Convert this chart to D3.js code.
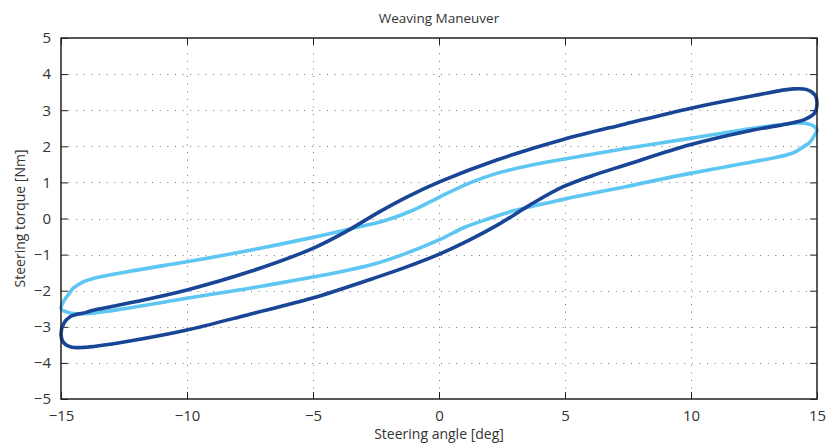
<!DOCTYPE html>
<html>
<head>
<meta charset="utf-8">
<script src="https://cdn.jsdelivr.net/npm/d3@7"></script>
<style>
  body { margin: 0; background: #fff; }
  text { font-family: "Open Sans", "Noto Sans", sans-serif; fill: #333; }
</style>
</head>
<body>
<svg width="833" height="445"></svg>
<script>
// values: [steering angle deg, torque Nm]
var darkLoop = [
  [-15.0, -3.2], [-14.9, -2.92], [-14.64, -2.72], [-14.0, -2.6], [-13.72, -2.54],
  [-12.0, -2.3], [-10.0, -1.98], [-7.5, -1.47], [-5.05, -0.84], [-3.66, -0.35],
  [-2.4, 0.17], [-1.2, 0.62], [0.04, 1.02], [2.29, 1.62], [4.93, 2.19],
  [7.4, 2.62], [9.96, 3.05], [12.47, 3.4], [14.06, 3.59], [14.6, 3.57],
  [14.92, 3.42], [15.0, 3.2], [14.9, 2.92], [14.5, 2.74], [13.8, 2.62],
  [12.47, 2.45], [9.96, 2.04], [7.4, 1.48], [6.26, 1.23], [4.93, 0.88],
  [3.6, 0.37], [2.4, -0.15], [1.2, -0.6], [0.04, -0.98], [-1.28, -1.34],
  [-2.61, -1.66], [-5.05, -2.21], [-7.5, -2.65], [-10.0, -3.09], [-12.5, -3.42],
  [-14.1, -3.57], [-14.6, -3.56], [-14.9, -3.44]
];
var lightLoop = [
  [-15.0, -2.5], [-14.9, -2.3], [-14.7, -2.1], [-14.51, -1.93], [-14.1, -1.75],
  [-13.72, -1.66], [-12.0, -1.43], [-10.0, -1.2], [-7.5, -0.88], [-5.05, -0.53],
  [-3.66, -0.31], [-2.07, -0.04], [-1.01, 0.235], [0.04, 0.6], [1.2, 0.98],
  [2.29, 1.25], [3.6, 1.47], [4.93, 1.64], [7.4, 1.94], [9.96, 2.22],
  [12.47, 2.5], [14.06, 2.64], [14.5, 2.64], [14.85, 2.57], [15.0, 2.45],
  [14.9, 2.3], [14.7, 2.1], [14.46, 1.99], [14.1, 1.83], [13.8, 1.76],
  [12.47, 1.57], [9.96, 1.25], [7.4, 0.88], [4.93, 0.53], [3.0, 0.22],
  [2.0, 0.0], [1.0, -0.25], [0.04, -0.58], [-1.28, -0.96], [-2.61, -1.27],
  [-3.8, -1.46], [-5.05, -1.63], [-7.5, -1.93], [-10.0, -2.21], [-12.5, -2.5],
  [-14.06, -2.64], [-14.5, -2.63], [-14.85, -2.57]
];
var xTicks = [-15, -10, -5, 0, 5, 10, 15];
var yTicks = [-5, -4, -3, -2, -1, 0, 1, 2, 3, 4, 5];

var plotLeft = 61, plotRight = 817, plotTop = 38, plotBottom = 399;
var svg = d3.select('svg');

var x = d3.scaleLinear().domain([-15, 15]).range([plotLeft, plotRight]);
var y = d3.scaleLinear().domain([-5, 5]).range([plotBottom, plotTop]);

function fmt(d) { return d < 0 ? '\u2212' + (-d) : '' + d; }

// grid
var grid = svg.append('g')
  .attr('stroke', '#777')
  .attr('stroke-width', 1)
  .attr('stroke-dasharray', '1,6.6');
grid.selectAll('line.vx')
  .data(xTicks.slice(1, -1))
  .enter()
  .append('line')
  .attr('x1', function(d) { return Math.round(x(d)) + 0.5; })
  .attr('x2', function(d) { return Math.round(x(d)) + 0.5; })
  .attr('y1', plotTop)
  .attr('y2', plotBottom);
grid.selectAll('line.hy')
  .data(yTicks.slice(1, -1))
  .enter()
  .append('line')
  .attr('y1', function(d) { return Math.round(y(d)) + 0.5; })
  .attr('y2', function(d) { return Math.round(y(d)) + 0.5; })
  .attr('x1', plotLeft)
  .attr('x2', plotRight);

// axes, ticks inward on all four sides
svg.append('g')
  .attr('transform', 'translate(0,' + plotBottom + ')')
  .call(d3.axisBottom(x).tickValues(xTicks).tickSize(-7).tickPadding(11).tickFormat(fmt));
svg.append('g')
  .attr('transform', 'translate(0,' + plotTop + ')')
  .call(d3.axisTop(x).tickValues(xTicks).tickSize(-7).tickFormat(''));
svg.append('g')
  .attr('transform', 'translate(' + plotLeft + ',0)')
  .call(d3.axisLeft(y).tickValues(yTicks).tickSize(-7).tickPadding(10).tickFormat(fmt));
svg.append('g')
  .attr('transform', 'translate(' + plotRight + ',0)')
  .call(d3.axisRight(y).tickValues(yTicks).tickSize(-7).tickFormat(''));

svg.selectAll('.domain').remove();
svg.selectAll('.tick line').attr('stroke', '#222').attr('stroke-width', 1);
svg.selectAll('.tick text')
  .style('font-family', '"Open Sans", "Noto Sans", sans-serif')
  .style('font-size', '15px')
  .attr('fill', '#333');

// loops
var line = d3.line()
  .x(function(d) { return x(d[0]); })
  .y(function(d) { return y(d[1]); })
  .curve(d3.curveCatmullRomClosed);

svg.append('path')
  .datum(lightLoop)
  .attr('d', line)
  .attr('fill', 'none')
  .attr('stroke', '#5ec6f2')
  .attr('stroke-width', 3.6);

svg.append('path')
  .datum(darkLoop)
  .attr('d', line)
  .attr('fill', 'none')
  .attr('stroke', '#184596')
  .attr('stroke-width', 3.6);

// box
svg.append('rect')
  .attr('x', plotLeft)
  .attr('y', plotTop)
  .attr('width', plotRight - plotLeft)
  .attr('height', plotBottom - plotTop)
  .attr('fill', 'none')
  .attr('stroke', '#222')
  .attr('stroke-width', 1.5);

// labels
svg.append('text')
  .attr('x', (plotLeft + plotRight) / 2)
  .attr('y', 23)
  .attr('text-anchor', 'middle')
  .style('font-size', '13.5px')
  .text('Weaving Maneuver');

svg.append('text')
  .attr('x', (plotLeft + plotRight) / 2)
  .attr('y', 439)
  .attr('text-anchor', 'middle')
  .style('font-size', '14px')
  .text('Steering angle [deg]');

svg.append('text')
  .attr('transform', 'translate(25,' + (plotTop + plotBottom) / 2 + ') rotate(-90)')
  .attr('text-anchor', 'middle')
  .style('font-size', '14px')
  .text('Steering torque [Nm]');
</script>
</body>
</html>
